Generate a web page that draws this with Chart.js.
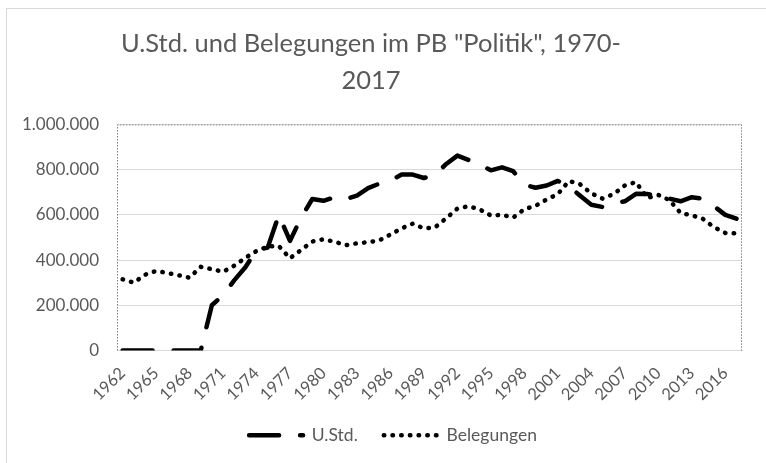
<!DOCTYPE html>
<html>
<head>
<meta charset="utf-8">
<script src="https://cdn.jsdelivr.net/npm/chart.js@4.4.1/dist/chart.umd.min.js"></script>
<style>
  html, body { margin: 0; padding: 0; background: #ffffff; overflow: hidden; }
  #frame { position: absolute; left: 6px; top: 8px; width: 900px; height: 600px; border: 1.5px solid #d9d9d9; }
  #wrap { position: absolute; left: 0; top: 0; width: 766px; height: 463px; }
</style>
</head>
<body>
<div id="frame"></div>
<div id="wrap"><canvas id="c" width="766" height="463"></canvas></div>
<script>
const years = [
  '1962','1963','1964','1965','1966','1967','1968','1969','1970','1971',
  '1972','1973','1974','1975','1976','1977','1978','1979','1980','1981',
  '1982','1983','1984','1985','1986','1987','1988','1989','1990','1991',
  '1992','1993','1994','1995','1996','1997','1998','1999','2000','2001',
  '2002','2003','2004','2005','2006','2007','2008','2009','2010','2011',
  '2012','2013','2014','2015','2016','2017'
];
const shownYearTicks = ['1962','1965','1968','1971','1974','1977','1980','1983','1986','1989',
  '1992','1995','1998','2001','2004','2007','2010','2013','2016'];

const ustd = [
  0, 0, 0, 0, 0, 0, 0, 0, 200000, 245000,
  310000, 368000, 444000, 455000, 600000, 485000, 588000, 670000, 662000, 678000,
  670000, 685000, 718000, 738000, 752000, 778000, 778000, 763000, 778000, 825000,
  862000, 843000, 822000, 797000, 810000, 793000, 733000, 720000, 730000, 750000,
  725000, 685000, 645000, 635000, 652000, 660000, 693000, 692000, 686000, 672000,
  660000, 678000, 672000, 638000, 600000, 583000
];
const belegungen = [
  315000, 300000, 335000, 352000, 343000, 333000, 322000, 370000, 360000, 348000,
  375000, 410000, 440000, 460000, 462000, 408000, 445000, 482000, 492000, 481000,
  466000, 474000, 479000, 487000, 513000, 540000, 561000, 540000, 545000, 585000,
  628000, 638000, 624000, 597000, 600000, 588000, 625000, 640000, 668000, 692000,
  750000, 735000, 695000, 672000, 692000, 730000, 745000, 675000, 688000, 665000,
  608000, 598000, 582000, 545000, 520000, 518000
];
const seriesNames = ['U.Std.', 'Belegungen'];
const titleLines = ['U.Std. und Belegungen im PB "Politik", 1970-', '2017'];

const TEXT = '#595959';
const FONT = 'Lato';

function deFormat(v) {
  return String(v).replace(/\B(?=(\d{3})+(?!\d))/g, '.');
}

const plotBorder = {
  id: 'plotBorder',
  afterDatasetsDraw(chart) {
    const a = chart.chartArea;
    const ctx = chart.ctx;
    ctx.save();
    ctx.strokeStyle = '#7f7f7f';
    ctx.lineWidth = 1;
    ctx.setLineDash([1.5, 1.5]);
    ctx.beginPath();
    ctx.moveTo(a.left + 0.5, a.bottom);
    ctx.lineTo(a.left + 0.5, a.top + 0.5);
    ctx.lineTo(a.right - 0.5, a.top + 0.5);
    ctx.lineTo(a.right - 0.5, a.bottom);
    ctx.stroke();
    ctx.restore();
  }
};

const legendShift = {
  id: 'legendShift',
  afterLayout(chart) {
    const lg = chart.legend;
    if (lg) { lg.left += 22; lg.right += 22; }
  }
};

new Chart(document.getElementById('c'), {
  type: 'line',
  data: {
    labels: years,
    datasets: [
      {
        label: seriesNames[0],
        data: ustd,
        borderColor: '#000000',
        backgroundColor: '#000000',
        borderWidth: 4.5,
        borderDash: [30, 21],
        borderCapStyle: 'round',
        borderJoinStyle: 'round',
        pointRadius: 0,
        tension: 0,
        fill: false
      },
      {
        label: seriesNames[1],
        data: belegungen,
        borderColor: '#000000',
        backgroundColor: '#000000',
        borderWidth: 4.5,
        borderDash: [0.5, 8.2],
        borderCapStyle: 'round',
        borderJoinStyle: 'round',
        pointRadius: 0,
        tension: 0,
        fill: false
      }
    ]
  },
  options: {
    responsive: false,
    animation: false,
    events: [],
    layout: { padding: { left: 0, right: 24, top: 0, bottom: 9 } },
    plugins: {
      title: {
        display: true,
        text: titleLines,
        color: TEXT,
        font: { family: FONT, size: 25.5, weight: 'normal', lineHeight: 1.42 },
        padding: { top: 26, bottom: 26 }
      },
      legend: {
        display: true,
        position: 'bottom',
        labels: {
          color: TEXT,
          font: { family: FONT, size: 17.5 },
          usePointStyle: true,
          pointStyle: 'line',
          pointStyleWidth: 54,
          padding: 26,
          generateLabels(chart) {
            const items = Chart.defaults.plugins.legend.labels.generateLabels(chart);
            items.forEach((it) => {
              const ds = chart.data.datasets[it.datasetIndex];
              it.lineDash = ds.borderDash;
              it.lineCap = ds.borderCapStyle;
              it.lineWidth = ds.borderWidth;
              it.strokeStyle = ds.borderColor;
              it.fontColor = TEXT;
            });
            return items;
          }
        }
      },
      tooltip: { enabled: false }
    },
    scales: {
      x: {
        type: 'category',
        offset: true,
        grid: { display: false, drawTicks: false },
        border: { display: true, color: '#d9d9d9', width: 1 },
        ticks: {
          color: TEXT,
          font: { family: FONT, size: 16.5 },
          autoSkip: false,
          minRotation: 45,
          maxRotation: 45,
          padding: 13,
          callback: function (value) {
            const lab = this.getLabelForValue(value);
            return shownYearTicks.includes(lab) ? lab : '';
          }
        },
        afterFit(scale) { scale.height = 50; }
      },
      y: {
        min: 0,
        max: 1000000,
        grid: { color: '#d9d9d9', lineWidth: 1, drawTicks: false },
        border: { display: false },
        ticks: {
          color: TEXT,
          font: { family: FONT, size: 17 },
          stepSize: 200000,
          padding: 18,
          callback: (v) => deFormat(v)
        },
        afterFit(scale) { scale.width = 117; }
      }
    }
  },
  plugins: [plotBorder, legendShift]
});
</script>
</body>
</html>
